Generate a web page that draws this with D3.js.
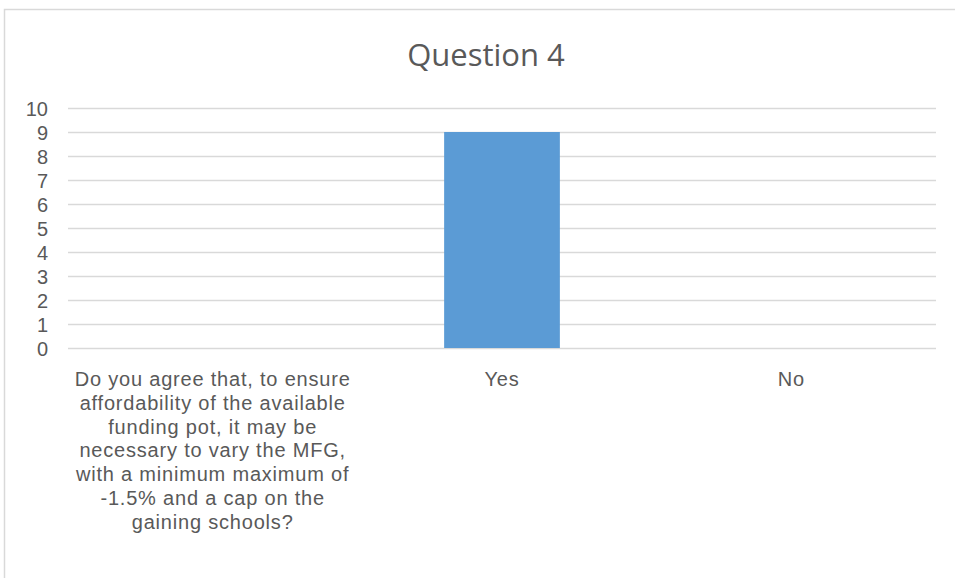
<!DOCTYPE html>
<html>
<head>
<meta charset="utf-8">
<script src="https://cdn.jsdelivr.net/npm/d3@7"></script>
<style>
  body { margin: 0; background: #fff; }
</style>
</head>
<body>
<svg id="chart" width="955" height="578"></svg>
<script>
// data
const categories = [
  "Do you agree that, to ensure affordability of the available funding pot, it may be necessary to vary the MFG, with a minimum maximum of -1.5% and a cap on the gaining schools?",
  "Yes",
  "No"
];
// the long label is wrapped like in the original
const categoryLines = [
  ["Do you agree that, to ensure", "affordability of the available", "funding pot, it may be", "necessary to vary the MFG,", "with a minimum maximum of", "-1.5% and a cap on the", "gaining schools?"],
  ["Yes"],
  ["No"]
];
const values = [0, 9, 0];
const yTicks = [0, 1, 2, 3, 4, 5, 6, 7, 8, 9, 10];
const chartTitle = "Question 4";

const svg = d3.select("#chart");
const W = 955, H = 578;
const margin = { left: 68, right: 19, top: 108, bottom: 230 };
const labelFont = "\"Liberation Sans\", Arial, sans-serif";

// outer chart border
svg.append("rect")
  .attr("x", 4.5).attr("y", 9.5)
  .attr("width", W + 10).attr("height", H + 10)
  .attr("fill", "#fff")
  .attr("stroke", "#d9d9d9")
  .attr("stroke-width", 1.5);

const x = d3.scaleBand()
  .domain(categories)
  .range([margin.left, W - margin.right])
  .paddingInner(0.6)
  .paddingOuter(0.3);

const y = d3.scaleLinear()
  .domain([0, 10])
  .range([348, 108]);

// title
svg.append("text")
  .attr("x", 486).attr("y", 66)
  .attr("text-anchor", "middle")
  .style("font-family", "\"Open Sans\", sans-serif")
  .style("font-size", "31px")
  .attr("fill", "#595959")
  .text(chartTitle);

// gridlines
svg.append("g")
  .selectAll("line")
  .data(yTicks)
  .join("line")
  .attr("x1", margin.left).attr("x2", W - margin.right)
  .attr("y1", d => Math.round(y(d)) + 0.5)
  .attr("y2", d => Math.round(y(d)) + 0.5)
  .attr("stroke", "#d9d9d9")
  .attr("stroke-width", 1.5);

// y axis labels
const yAxis = d3.axisLeft(y).tickValues(yTicks).tickSize(0).tickPadding(0);
const gy = svg.append("g")
  .attr("transform", "translate(48,0)")
  .call(yAxis);
gy.select(".domain").remove();
gy.selectAll("text")
  .style("font-family", labelFont)
  .style("font-size", "20px")
  .attr("dy", "0.36em")
  .attr("fill", "#595959");

// bars
svg.append("g")
  .selectAll("rect")
  .data(values)
  .join("rect")
  .attr("x", (d, i) => x(categories[i]))
  .attr("y", d => y(d))
  .attr("width", x.bandwidth())
  .attr("height", d => y(0) - y(d))
  .attr("fill", "#5b9bd5");

// category labels
const xCenter = i => x(categories[i]) + x.bandwidth() / 2;
const labels = svg.append("g")
  .selectAll("text")
  .data(categoryLines)
  .join("text")
  .attr("text-anchor", "middle")
  .style("font-family", labelFont)
  .style("font-size", "20px")
  .style("letter-spacing", "0.8px")
  .attr("fill", "#595959");
labels.selectAll("tspan")
  .data((d, i) => d.map(s => ({ s, i })))
  .join("tspan")
  .attr("x", d => xCenter(d.i))
  .attr("y", (d, j) => 386 + j * 23.8)
  .text(d => d.s);
</script>
</body>
</html>
